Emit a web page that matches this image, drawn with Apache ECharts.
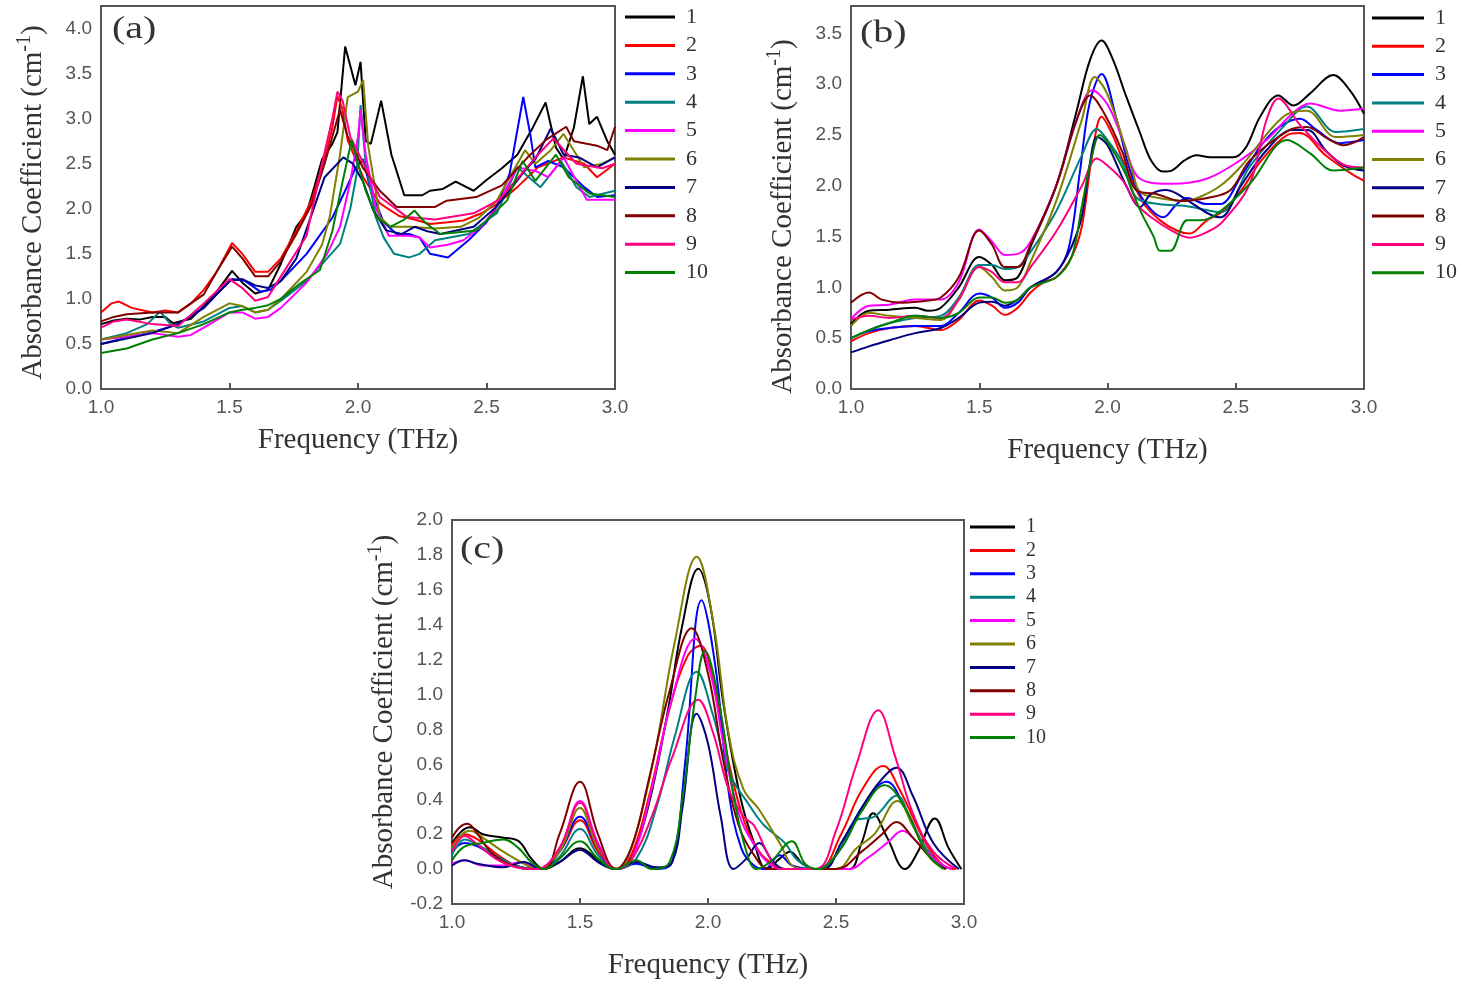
<!DOCTYPE html>
<html>
<head>
<meta charset="utf-8">
<script src="https://cdn.jsdelivr.net/npm/echarts@6/dist/echarts.min.js"></script>
<style>
  html, body { margin: 0; padding: 0; background: #fff; }
  #chart { width: 1459px; height: 984px; }
</style>
</head>
<body>
<div id="chart"></div>
<script>
var names = ['1', '2', '3', '4', '5', '6', '7', '8', '9', '10'];
var colors = ['#000000', '#ff0000', '#0000ff', '#008080', '#ff00ff', '#808000', '#000080', '#800000', '#ff0080', '#008000'];
var freqTicks = [1.0, 1.5, 2.0, 2.5, 3.0];

// (a)
var a1 = [[1.0,0.72],[1.05,0.76],[1.1,0.78],[1.15,0.77],[1.2,0.8],[1.25,0.8],[1.28,0.73],[1.35,0.78],[1.4,0.92],[1.45,1.08],[1.51,1.31],[1.55,1.18],[1.6,1.06],[1.65,1.1],[1.7,1.39],[1.76,1.8],[1.8,1.95],[1.83,2.24],[1.86,2.55],[1.9,2.72],[1.92,2.85],[1.95,3.8],[1.99,3.37],[2.01,3.63],[2.03,2.75],[2.05,2.72],[2.09,3.2],[2.13,2.6],[2.18,2.15],[2.25,2.15],[2.28,2.2],[2.33,2.22],[2.38,2.3],[2.45,2.2],[2.5,2.32],[2.56,2.45],[2.62,2.6],[2.68,2.9],[2.73,3.18],[2.77,2.68],[2.8,2.55],[2.84,2.9],[2.875,3.47],[2.9,2.94],[2.93,3.02],[2.97,2.75],[3.0,2.6]];
var a2 = [[1.0,0.85],[1.04,0.95],[1.07,0.97],[1.12,0.9],[1.2,0.85],[1.25,0.87],[1.3,0.85],[1.35,0.95],[1.4,1.1],[1.45,1.3],[1.51,1.62],[1.55,1.5],[1.6,1.3],[1.65,1.3],[1.7,1.45],[1.76,1.75],[1.82,2.1],[1.87,2.55],[1.9,2.9],[1.92,3.25],[1.94,3.1],[1.96,2.76],[2.02,2.35],[2.085,2.06],[2.16,1.92],[2.22,1.88],[2.28,1.83],[2.35,1.85],[2.41,1.87],[2.48,1.95],[2.54,2.05],[2.62,2.24],[2.7,2.46],[2.8,2.57],[2.88,2.5],[2.93,2.35],[3.0,2.5]];
var a3 = [[1.0,0.5],[1.1,0.57],[1.2,0.63],[1.3,0.72],[1.4,0.9],[1.45,1.05],[1.51,1.22],[1.56,1.2],[1.62,1.08],[1.66,1.1],[1.7,1.2],[1.75,1.35],[1.8,1.5],[1.85,1.7],[1.9,1.9],[1.95,2.2],[1.99,2.45],[2.02,2.55],[2.05,2.2],[2.1,1.85],[2.15,1.72],[2.2,1.72],[2.24,1.68],[2.28,1.5],[2.35,1.46],[2.43,1.65],[2.5,1.85],[2.54,2.02],[2.59,2.39],[2.643,3.24],[2.67,2.83],[2.69,2.46],[2.74,2.53],[2.8,2.46],[2.88,2.24],[2.93,2.13],[3.0,2.15]];
var a4 = [[1.0,0.55],[1.1,0.62],[1.18,0.72],[1.23,0.86],[1.27,0.72],[1.3,0.68],[1.4,0.75],[1.5,0.9],[1.55,0.92],[1.6,0.85],[1.65,0.88],[1.7,0.98],[1.8,1.2],[1.88,1.45],[1.93,1.61],[1.97,2.0],[1.995,2.39],[2.01,3.15],[2.03,2.5],[2.07,1.9],[2.1,1.68],[2.14,1.5],[2.2,1.46],[2.24,1.5],[2.3,1.65],[2.43,1.72],[2.54,1.95],[2.62,2.46],[2.71,2.24],[2.79,2.53],[2.85,2.24],[2.9,2.13],[3.0,2.2]];
var a5 = [[1.0,0.55],[1.1,0.58],[1.2,0.62],[1.3,0.58],[1.35,0.6],[1.4,0.68],[1.5,0.85],[1.55,0.85],[1.6,0.78],[1.65,0.8],[1.7,0.9],[1.8,1.18],[1.88,1.5],[1.93,1.8],[1.97,2.3],[2.0,2.8],[2.01,3.1],[2.03,2.6],[2.07,2.0],[2.12,1.7],[2.2,1.7],[2.24,1.68],[2.28,1.57],[2.35,1.6],[2.41,1.65],[2.48,1.8],[2.54,2.02],[2.62,2.46],[2.69,2.42],[2.74,2.35],[2.8,2.57],[2.89,2.1],[3.0,2.1]];
var a6 = [[1.0,0.55],[1.1,0.6],[1.2,0.65],[1.3,0.62],[1.4,0.8],[1.5,0.95],[1.55,0.92],[1.6,0.85],[1.65,0.88],[1.7,1.0],[1.8,1.3],[1.86,1.6],[1.89,1.91],[1.93,2.6],[1.96,3.24],[2.0,3.3],[2.02,3.43],[2.04,2.69],[2.085,1.91],[2.125,1.8],[2.2,1.8],[2.3,1.78],[2.4,1.8],[2.47,1.9],[2.54,2.09],[2.6,2.4],[2.65,2.65],[2.69,2.5],[2.75,2.65],[2.8,2.83],[2.88,2.46],[2.95,2.5],[3.0,2.57]];
var a7 = [[1.0,0.5],[1.1,0.56],[1.2,0.62],[1.3,0.72],[1.4,0.9],[1.5,1.2],[1.55,1.22],[1.6,1.15],[1.65,1.12],[1.7,1.2],[1.76,1.45],[1.825,1.98],[1.87,2.35],[1.943,2.57],[1.98,2.5],[2.02,2.3],[2.06,1.98],[2.11,1.76],[2.17,1.72],[2.22,1.8],[2.27,1.75],[2.32,1.72],[2.45,1.8],[2.53,2.0],[2.6,2.24],[2.64,2.39],[2.69,2.55],[2.75,2.89],[2.8,2.6],[2.86,2.57],[2.93,2.46],[3.0,2.57]];
var a8 = [[1.0,0.75],[1.05,0.8],[1.1,0.83],[1.2,0.85],[1.3,0.85],[1.4,1.05],[1.45,1.3],[1.51,1.58],[1.55,1.45],[1.6,1.25],[1.65,1.25],[1.7,1.42],[1.76,1.72],[1.82,2.05],[1.87,2.5],[1.9,2.8],[1.93,3.1],[1.96,2.8],[2.02,2.45],[2.085,2.2],[2.15,2.02],[2.3,2.02],[2.345,2.09],[2.46,2.13],[2.56,2.26],[2.67,2.6],[2.734,2.77],[2.81,2.91],[2.84,2.75],[2.93,2.7],[2.97,2.65],[3.0,2.91]];
var a9 = [[1.0,0.68],[1.05,0.75],[1.1,0.77],[1.2,0.72],[1.3,0.7],[1.4,0.95],[1.5,1.22],[1.55,1.12],[1.6,0.98],[1.65,1.02],[1.7,1.25],[1.8,1.7],[1.86,2.5],[1.9,3.0],[1.92,3.3],[1.94,3.2],[1.97,2.8],[2.034,2.43],[2.085,2.13],[2.19,1.91],[2.3,1.88],[2.45,1.95],[2.55,2.1],[2.64,2.4],[2.7,2.6],[2.76,2.78],[2.85,2.5],[2.95,2.45],[3.0,2.5]];
var a10 = [[1.0,0.4],[1.1,0.45],[1.2,0.55],[1.3,0.62],[1.4,0.72],[1.5,0.85],[1.55,0.88],[1.6,0.9],[1.65,0.93],[1.7,1.0],[1.774,1.17],[1.852,1.32],[1.9,1.75],[1.94,2.3],[1.975,2.76],[2.0,2.5],[2.03,2.2],[2.07,1.91],[2.125,1.8],[2.18,1.88],[2.22,1.98],[2.26,1.85],[2.32,1.72],[2.46,1.76],[2.58,2.09],[2.64,2.53],[2.69,2.31],[2.77,2.6],[2.82,2.35],[2.9,2.17],[3.0,2.13]];

// (b)
var b1 = [[1.0,0.64],[1.07,0.77],[1.15,0.78],[1.25,0.8],[1.3,0.77],[1.35,0.8],[1.42,1.0],[1.5,1.3],[1.55,1.22],[1.6,1.07],[1.65,1.1],[1.7,1.4],[1.8,2.0],[1.88,2.74],[1.932,3.24],[1.977,3.43],[2.02,3.25],[2.07,2.9],[2.127,2.52],[2.17,2.25],[2.217,2.14],[2.25,2.15],[2.3,2.25],[2.348,2.3],[2.4,2.28],[2.49,2.28],[2.54,2.38],[2.595,2.68],[2.666,2.89],[2.725,2.79],[2.79,2.91],[2.88,3.09],[2.945,2.94],[3.0,2.71]];
var b2 = [[1.0,0.47],[1.07,0.55],[1.15,0.6],[1.25,0.62],[1.35,0.58],[1.42,0.68],[1.5,0.87],[1.55,0.82],[1.6,0.73],[1.65,0.8],[1.7,0.95],[1.75,1.05],[1.8,1.1],[1.86,1.3],[1.9,1.6],[1.94,2.3],[1.977,2.68],[2.02,2.5],[2.06,2.25],[2.14,1.83],[2.205,1.66],[2.27,1.56],[2.32,1.53],[2.387,1.66],[2.45,1.75],[2.52,1.95],[2.6,2.25],[2.7,2.5],[2.75,2.52],[2.85,2.3],[2.95,2.12],[3.0,2.05]];
var b3 = [[1.0,0.5],[1.07,0.57],[1.15,0.6],[1.25,0.62],[1.35,0.62],[1.42,0.75],[1.5,0.94],[1.55,0.9],[1.6,0.8],[1.65,0.85],[1.7,1.0],[1.8,1.15],[1.85,1.4],[1.893,2.15],[1.93,2.81],[1.977,3.1],[2.036,2.65],[2.088,2.15],[2.14,1.86],[2.218,1.69],[2.27,1.82],[2.31,1.88],[2.387,1.82],[2.44,1.82],[2.52,2.09],[2.6,2.4],[2.67,2.58],[2.75,2.66],[2.815,2.55],[2.906,2.42],[3.0,2.45]];
var b4 = [[1.0,0.5],[1.07,0.58],[1.15,0.65],[1.25,0.7],[1.35,0.72],[1.42,0.9],[1.5,1.22],[1.55,1.22],[1.6,1.18],[1.65,1.2],[1.7,1.35],[1.8,1.75],[1.9,2.3],[1.958,2.56],[2.0,2.45],[2.06,2.22],[2.11,1.89],[2.2,1.82],[2.31,1.8],[2.44,1.74],[2.555,2.19],[2.685,2.58],[2.777,2.78],[2.89,2.53],[3.0,2.56]];
var b5 = [[1.0,0.69],[1.07,0.82],[1.15,0.83],[1.25,0.88],[1.35,0.88],[1.42,1.05],[1.5,1.57],[1.55,1.45],[1.6,1.32],[1.65,1.33],[1.7,1.45],[1.8,2.0],[1.88,2.65],[1.94,2.94],[2.0,2.8],[2.06,2.45],[2.127,2.07],[2.25,2.02],[2.387,2.07],[2.517,2.25],[2.62,2.45],[2.72,2.71],[2.79,2.81],[2.906,2.74],[3.0,2.76]];
var b6 = [[1.0,0.62],[1.07,0.75],[1.15,0.72],[1.25,0.7],[1.35,0.68],[1.42,0.88],[1.5,1.2],[1.55,1.1],[1.6,0.97],[1.65,1.0],[1.7,1.25],[1.8,1.85],[1.9,2.65],[1.95,3.07],[1.99,2.95],[2.036,2.65],[2.1,2.12],[2.127,1.94],[2.2,1.88],[2.3,1.85],[2.36,1.89],[2.44,2.0],[2.52,2.19],[2.685,2.68],[2.777,2.74],[2.89,2.48],[3.0,2.5]];
var b7 = [[1.0,0.36],[1.07,0.42],[1.15,0.48],[1.25,0.55],[1.35,0.6],[1.42,0.7],[1.5,0.85],[1.55,0.86],[1.6,0.82],[1.65,0.88],[1.7,1.0],[1.8,1.15],[1.86,1.4],[1.9,1.7],[1.93,2.2],[1.96,2.48],[2.0,2.4],[2.075,1.99],[2.127,1.79],[2.17,1.92],[2.23,1.96],[2.31,1.86],[2.39,1.73],[2.44,1.69],[2.52,2.0],[2.62,2.35],[2.72,2.55],[2.78,2.55],[2.85,2.35],[2.92,2.2],[3.0,2.15]];
var b8 = [[1.0,0.85],[1.07,0.95],[1.12,0.88],[1.2,0.85],[1.3,0.87],[1.35,0.9],[1.42,1.1],[1.5,1.56],[1.55,1.42],[1.6,1.2],[1.65,1.2],[1.7,1.42],[1.8,2.0],[1.88,2.65],[1.932,2.89],[1.99,2.7],[2.06,2.32],[2.11,1.96],[2.19,1.92],[2.29,1.85],[2.39,1.88],[2.48,1.96],[2.555,2.25],[2.71,2.55],[2.777,2.58],[2.855,2.47],[2.92,2.4],[3.0,2.48]];
var b9 = [[1.0,0.68],[1.07,0.72],[1.15,0.7],[1.25,0.72],[1.35,0.7],[1.42,0.88],[1.5,1.2],[1.55,1.15],[1.6,1.05],[1.65,1.05],[1.7,1.2],[1.8,1.55],[1.9,2.0],[1.958,2.27],[2.0,2.2],[2.06,2.05],[2.11,1.83],[2.17,1.69],[2.25,1.56],[2.32,1.49],[2.4,1.56],[2.45,1.65],[2.555,2.02],[2.62,2.65],[2.666,2.86],[2.75,2.6],[2.855,2.33],[2.93,2.2],[3.0,2.18]];
var b10 = [[1.0,0.5],[1.07,0.58],[1.15,0.65],[1.25,0.72],[1.35,0.7],[1.42,0.75],[1.5,0.9],[1.55,0.9],[1.6,0.85],[1.65,0.88],[1.7,1.0],[1.8,1.1],[1.86,1.3],[1.9,1.8],[1.94,2.3],[1.97,2.5],[2.02,2.35],[2.075,2.09],[2.127,1.76],[2.18,1.5],[2.205,1.36],[2.245,1.36],[2.31,1.66],[2.36,1.66],[2.43,1.73],[2.555,2.02],[2.7,2.45],[2.79,2.32],[2.88,2.15],[3.0,2.18]];

// (c)
var c1 = [[1.0,0.15],[1.04,0.22],[1.07,0.24],[1.12,0.2],[1.2,0.18],[1.26,0.16],[1.31,0.06],[1.36,0],[1.42,0.04],[1.5,0.12],[1.58,0.04],[1.65,0],[1.69,0.04],[1.76,0.32],[1.84,0.88],[1.9,1.4],[1.962,1.72],[2.01,1.5],[2.06,0.95],[2.125,0.42],[2.18,0.15],[2.23,0],[2.28,0.06],[2.32,0.1],[2.37,0.03],[2.42,0],[2.55,0],[2.6,0.15],[2.645,0.32],[2.7,0.18],[2.77,0],[2.82,0.1],[2.886,0.29],[2.94,0.12],[2.99,0]];
var c2 = [[1.0,0.14],[1.05,0.2],[1.1,0.17],[1.18,0.08],[1.25,0.02],[1.33,0],[1.42,0.1],[1.5,0.28],[1.57,0.1],[1.64,0],[1.7,0.08],[1.77,0.42],[1.85,0.92],[1.92,1.22],[1.97,1.28],[2.02,1.08],[2.08,0.62],[2.14,0.28],[2.2,0.1],[2.26,0.02],[2.3,0],[2.43,0],[2.52,0.2],[2.6,0.45],[2.684,0.59],[2.75,0.45],[2.85,0.15],[2.92,0.02],[2.97,0]];
var c3 = [[1.0,0.1],[1.05,0.15],[1.1,0.13],[1.18,0.06],[1.27,0.01],[1.35,0],[1.42,0.1],[1.5,0.3],[1.57,0.12],[1.64,0],[1.72,0.03],[1.8,0],[1.86,0.04],[1.91,0.6],[1.975,1.54],[2.03,1.15],[2.08,0.45],[2.13,0.12],[2.18,0.02],[2.22,0],[2.28,0.08],[2.33,0.02],[2.43,0],[2.52,0.12],[2.6,0.35],[2.697,0.5],[2.77,0.35],[2.85,0.12],[2.93,0]];
var c4 = [[1.0,0.08],[1.05,0.17],[1.1,0.14],[1.18,0.07],[1.27,0.01],[1.35,0],[1.42,0.07],[1.5,0.23],[1.57,0.08],[1.64,0],[1.72,0.06],[1.8,0.36],[1.87,0.76],[1.956,1.13],[2.02,0.88],[2.08,0.56],[2.164,0.36],[2.22,0.25],[2.3,0.15],[2.35,0.05],[2.42,0],[2.5,0.08],[2.58,0.28],[2.65,0.3],[2.736,0.42],[2.8,0.25],[2.88,0.06],[2.93,0]];
var c5 = [[1.0,0.03],[1.05,0.05],[1.12,0.02],[1.2,0.02],[1.27,0.04],[1.33,0],[1.42,0.12],[1.5,0.39],[1.57,0.15],[1.64,0],[1.7,0.05],[1.78,0.46],[1.86,0.98],[1.95,1.32],[2.01,1.12],[2.06,0.72],[2.12,0.32],[2.18,0.14],[2.24,0.03],[2.3,0],[2.55,0],[2.62,0.06],[2.7,0.15],[2.76,0.22],[2.82,0.15],[2.9,0.04],[2.95,0]];
var c6 = [[1.0,0.12],[1.04,0.2],[1.07,0.22],[1.13,0.17],[1.2,0.1],[1.27,0.04],[1.33,0],[1.42,0.1],[1.5,0.35],[1.57,0.12],[1.65,0],[1.7,0.12],[1.75,0.38],[1.8,0.72],[1.87,1.3],[1.956,1.79],[2.02,1.42],[2.08,0.78],[2.138,0.46],[2.2,0.34],[2.28,0.15],[2.34,0.01],[2.4,0],[2.5,0],[2.58,0.12],[2.65,0.2],[2.74,0.39],[2.8,0.25],[2.87,0.06],[2.93,0]];
var c7 = [[1.0,0.02],[1.05,0.05],[1.1,0.03],[1.2,0.01],[1.28,0.04],[1.35,0],[1.42,0.04],[1.5,0.11],[1.57,0.04],[1.64,0],[1.72,0.04],[1.8,0.01],[1.86,0.04],[1.9,0.35],[1.956,0.89],[2.0,0.72],[2.05,0.3],[2.1,0],[2.15,0.06],[2.2,0.15],[2.25,0.05],[2.3,0],[2.45,0],[2.52,0.15],[2.6,0.35],[2.67,0.5],[2.736,0.58],[2.8,0.42],[2.88,0.15],[2.98,0]];
var c8 = [[1.0,0.18],[1.03,0.24],[1.06,0.26],[1.1,0.2],[1.15,0.1],[1.22,0.03],[1.3,0],[1.36,0],[1.42,0.2],[1.5,0.5],[1.57,0.2],[1.64,0],[1.7,0.12],[1.77,0.52],[1.85,1.02],[1.936,1.38],[2.0,1.12],[2.06,0.62],[2.12,0.25],[2.18,0.08],[2.24,0],[2.5,0],[2.6,0.1],[2.68,0.2],[2.736,0.27],[2.8,0.18],[2.88,0.05],[2.93,0]];
var c9 = [[1.0,0.1],[1.05,0.19],[1.1,0.14],[1.17,0.06],[1.25,0.01],[1.33,0],[1.42,0.12],[1.5,0.38],[1.57,0.14],[1.64,0],[1.7,0.05],[1.78,0.3],[1.86,0.64],[1.962,0.97],[2.02,0.78],[2.08,0.46],[2.14,0.3],[2.18,0.25],[2.23,0.1],[2.28,0],[2.42,0],[2.5,0.22],[2.58,0.6],[2.665,0.91],[2.73,0.65],[2.8,0.32],[2.88,0.1],[2.97,0]];
var c10 = [[1.0,0.05],[1.05,0.13],[1.12,0.15],[1.2,0.17],[1.26,0.12],[1.31,0.04],[1.36,0],[1.42,0.06],[1.5,0.16],[1.57,0.06],[1.64,0],[1.72,0.05],[1.78,0],[1.85,0.04],[1.9,0.4],[1.95,0.98],[1.988,1.25],[2.04,0.98],[2.1,0.42],[2.15,0.1],[2.19,0],[2.25,0.05],[2.327,0.16],[2.38,0.03],[2.43,0],[2.52,0.12],[2.6,0.33],[2.69,0.48],[2.77,0.35],[2.85,0.1],[2.92,0]];

var panelA = [a1, a2, a3, a4, a5, a6, a7, a8, a9, a10];
var panelB = [b1, b2, b3, b4, b5, b6, b7, b8, b9, b10];
var panelC = [c1, c2, c3, c4, c5, c6, c7, c8, c9, c10];

var chart = echarts.init(document.getElementById('chart'));

function makeSeries(list, idx, smooth) {
    return list.map(function (d, i) {
        return {
            name: names[i], type: 'line', xAxisIndex: idx, yAxisIndex: idx,
            data: d, symbol: 'none', smooth: smooth,
            lineStyle: { width: 2, color: colors[i] },
            itemStyle: { color: colors[i] }
        };
    });
}

function xAxis(idx, gap) {
    return {
        type: 'value', gridIndex: idx, min: freqTicks[0], max: freqTicks[freqTicks.length - 1], interval: 0.5,
        name: 'Frequency (THz)', nameLocation: 'middle', nameGap: gap,
        nameTextStyle: { fontFamily: 'Liberation Serif', fontSize: 29, color: '#333' },
        axisLine: { onZero: false, lineStyle: { color: '#555', width: 2 } },
        axisTick: { inside: true, length: 6, lineStyle: { color: '#555', width: 2 } },
        axisLabel: { fontFamily: 'Liberation Sans', fontSize: 19, color: '#555', margin: 9,
            formatter: function (v) { return v.toFixed(1); } },
        splitLine: { show: false }
    };
}

function yAxis(idx, min, max, step, gap, shift) {
    return {
        type: 'value', gridIndex: idx, min: min, max: max, interval: step,
        name: '{a|Absorbance Coefficient (cm}{s|-1}{a|)}', nameLocation: 'middle', nameGap: gap,
        nameTextStyle: {
            padding: [0, shift, 0, 0],
            rich: {
                a: { fontFamily: 'Liberation Serif', fontSize: 29, color: '#333', lineHeight: 36 },
                s: { fontFamily: 'Liberation Serif', fontSize: 20, color: '#333', verticalAlign: 'top', lineHeight: 36 }
            }
        },
        axisLine: { onZero: false, lineStyle: { color: '#555', width: 2 } },
        axisTick: { show: false },
        axisLabel: { fontFamily: 'Liberation Sans', fontSize: 19, color: '#555', margin: 9,
            formatter: function (v) {
                var k = v / step;
                return Math.abs(k - Math.round(k)) < 1e-6 ? v.toFixed(1) : '';
            } },
        splitLine: { show: false }
    };
}

function legend(left, top, width, gap, size) {
    return {
        data: names, orient: 'vertical', left: left, top: top, itemGap: gap,
        icon: 'rect', itemWidth: width, itemHeight: 3, selectedMode: false,
        textStyle: { fontFamily: 'Liberation Serif', fontSize: size, lineHeight: size, color: '#333', padding: [0, 0, 0, 6] }
    };
}

var gridStyle = { show: true, borderColor: '#555', borderWidth: 2 };

var option = {
    animation: false,
    backgroundColor: '#fff',
    grid: [
        Object.assign({ left: 101, top: 6, width: 514, height: 383 }, gridStyle),
        Object.assign({ left: 851, top: 6, width: 513, height: 383 }, gridStyle),
        Object.assign({ left: 452, top: 520, width: 512, height: 384 }, gridStyle)
    ],
    xAxis: [xAxis(0, 37), xAxis(1, 47), xAxis(2, 47)],
    yAxis: [
        yAxis(0, 0, 4.25, 0.5, 50, 10),
        yAxis(1, 0, 3.77, 0.5, 50, 38),
        yAxis(2, -0.2, 2.0, 0.2, 50, 0)
    ],
    legend: [
        legend(620, 1, 50, 6.4, 22),
        legend(1367, 2, 52, 6.3, 22),
        legend(965, 512, 45, 3.4, 20)
    ],
    graphic: [
        { type: 'text', left: 112, top: 14, scaleX: 1.25, style: { text: '(a)', font: '32px "Liberation Serif"', fill: '#333' } },
        { type: 'text', left: 860, top: 18, scaleX: 1.25, style: { text: '(b)', font: '32px "Liberation Serif"', fill: '#333' } },
        { type: 'text', left: 460, top: 534, scaleX: 1.25, style: { text: '(c)', font: '32px "Liberation Serif"', fill: '#333' } }
    ],
    series: [].concat(
        makeSeries(panelA, 0, false),
        makeSeries(panelB, 1, 0.35),
        makeSeries(panelC, 2, 0.4)
    )
};

chart.setOption(option);
</script>
</body>
</html>
